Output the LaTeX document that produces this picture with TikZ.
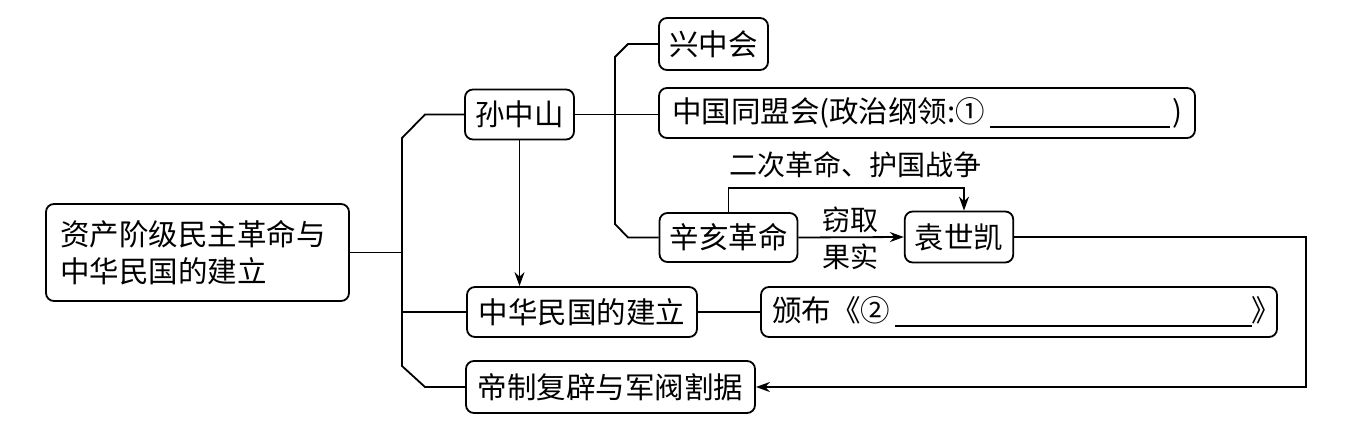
\documentclass[tikz,border=0pt]{standalone}
\usepackage{fontspec}
\newfontfamily\cjk{Noto Sans CJK SC}
\usetikzlibrary{arrows.meta, positioning, calc}
\tikzset{
    >={Stealth[length=14pt, width=10pt]}, % filled arrow heads
    box/.style={draw, rounded corners=8pt, line width=1.8pt, minimum height=50pt,
        inner xsep=10pt, font=\cjk\fontsize{29.5}{37}\selectfont}, % every framed item
    lbl/.style={font=\cjk\fontsize{28}{34}\selectfont, inner sep=0pt}, % text on connectors
    link/.style={line width=1.8pt},
}

\begin{document}
\begin{tikzpicture}[x=1pt, y=-1pt]
    \useasboundingbox (0,0) rectangle (1356,428);

    \node[box, minimum width=303pt, minimum height=97pt, text width=275pt, align=left, inner xsep=14pt]
        (main) at (197.5,252.5) {资产阶级民主革命与\\中华民国的建立};
    \node[box, minimum width=109pt] (zsh) at (519.5,114.5) {孙中山};
    \node[box, minimum width=109pt, minimum height=52pt] (xzh) at (713.5,44) {兴中会};
    \node[box, minimum width=536pt, text width=510pt, align=left, inner xsep=13pt]
        (tmh) at (927,113) {中国同盟会(政治纲领:①\,\rule[-5pt]{180pt}{1.6pt}\hfill)};
    \node[box, minimum width=137pt, minimum height=49pt] (xhgm) at (728.5,237.5) {辛亥革命};
    \node[box, minimum width=106pt, minimum height=51pt] (ysk) at (959,237) {袁世凯};
    \node[box, minimum width=230pt] (zhmg) at (582,312) {中华民国的建立};
    \node[box, minimum width=516pt, text width=494pt, align=left, inner xsep=11pt]
        (bb) at (1019,312) {\mbox{颁布《②\,\rule[-5pt]{357pt}{1.6pt}》}};
    \node[box, minimum width=289pt, minimum height=52pt] (dzfb) at (610.5,387) {帝制复辟与军阀割据};

    % labels
    \node[lbl] (ecgm) at (855,165) {二次革命、护国战争};
    \node[lbl] (qq) at (850,220) {窃取};
    \node[lbl] (gs) at (850,257) {果实};

    % main trunk
    \coordinate (t1) at (402,138);
    \coordinate (t2) at (402,366);
    \draw[link] (zsh.west) -- (425,114.5) -- (t1) -- (t2) -- (425,387) -- (dzfb.west);
    \draw[link] (main.east) -- (main.east -| t1);
    \draw[link] (zhmg.west -| t1) -- (zhmg.west);
    \draw[link, ->] (zsh.south) -- (zsh.south |- zhmg.north);
    \draw[link] (zhmg.east) -- (bb.west);

    % second trunk
    \draw[link] (xzh.west) -- (628,44) -- (615,57) -- (615,224) -- (628,237.5) -- (xhgm.west);
    \draw[link] (zsh.east) -- (zsh.east -| tmh.west);

    % 辛亥革命 and 袁世凯
    \draw[link, ->] (xhgm.east) -- (ysk.west);
    \draw[link, ->] (xhgm.north) -- ++(0,-24) -| ([xshift=5pt]ysk.north);
    \draw[link, ->] (ysk.east) -- (1306,237) |- (dzfb.east);
\end{tikzpicture}
\end{document}
